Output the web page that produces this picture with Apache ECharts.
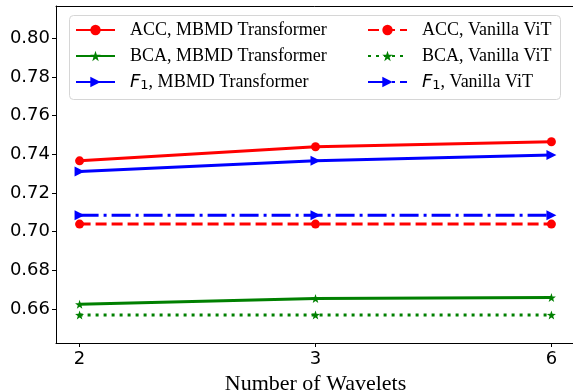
<!DOCTYPE html>
<html>
<head>
<meta charset="utf-8">
<script src="https://cdn.jsdelivr.net/npm/echarts@6/dist/echarts.min.js"></script>
<style>html,body{margin:0;padding:0;background:#fff}#c{width:573px;height:391px}</style>
</head>
<body>
<div id="c"></div>
<script>
const wavelets = ['2', '3', '6'];
const accMBMD = [0.7366, 0.7439, 0.7465];
const bcaMBMD = [0.6624, 0.6654, 0.6659];
const f1MBMD  = [0.7311, 0.7366, 0.7396];
const accViT  = [0.7039, 0.7039, 0.7039];
const bcaViT  = [0.6569, 0.6569, 0.6569];
const f1ViT   = [0.7085, 0.7085, 0.7085];
const yTicks = [0.66, 0.68, 0.70, 0.72, 0.74, 0.76, 0.78, 0.80];
const names = ['ACC, MBMD Transformer', 'BCA, MBMD Transformer', 'F1, MBMD Transformer',
               'ACC, Vanilla ViT', 'BCA, Vanilla ViT', 'F1, Vanilla ViT'];

function starPath() {
  let d = '';
  for (let i = 0; i < 10; i++) {
    const a = (-90 + i * 36) * Math.PI / 180;
    const r = i % 2 === 0 ? 100 : 40;
    d += (i === 0 ? 'M' : 'L') + (r * Math.cos(a)).toFixed(2) + ' ' + (r * Math.sin(a)).toFixed(2);
  }
  return 'path://' + d + 'Z';
}
const STAR = starPath();

function pts(arr) { return arr.map((v, i) => [i, v]); }

function mk(name, data, color, type, symbol, size, rotate) {
  return {
    name: name, type: 'line', data: pts(data),
    symbol: symbol, symbolSize: size, symbolRotate: rotate || 0,
    showSymbol: true,
    lineStyle: { color: color, width: 3, type: type, cap: 'butt' },
    itemStyle: { color: color },
    emphasis: { disabled: true },
    silent: true
  };
}

const legendText = {
  fontFamily: 'Liberation Serif', fontSize: 18, color: '#000', lineHeight: 20,
  padding: [0, 0, 0, 10],
  rich: {
    f: { fontFamily: 'DejaVu Sans', fontStyle: 'italic', fontSize: 18, color: '#000' },
    s: { fontFamily: 'DejaVu Sans', fontSize: 13, color: '#000', padding: [7, 0, 0, 0] },
    t: { fontFamily: 'Liberation Serif', fontSize: 18, color: '#000' }
  }
};
function fmt(n) {
  if (n.indexOf('F1') === 0) return '{f|F}{s|1}{t|' + n.slice(2) + '}';
  return n;
}

const chart = echarts.init(document.getElementById('c'), null, { renderer: 'canvas' });
chart.setOption({
  animation: false,
  backgroundColor: '#fff',
  grid: { left: 56, top: 6, width: 519, height: 337, show: false, containLabel: false, outerBoundsMode: 'none' },
  graphic: [{
    type: 'rect', z: 0,
    shape: { x: 69.5, y: 15.5, width: 491, height: 84, r: 4 },
    style: { fill: '#fff', stroke: '#d6d6d6', lineWidth: 1 }
  }],
  legend: [{
    data: names.slice(0, 3), orient: 'vertical', left: 75, top: 20, padding: 0,
    itemWidth: 39, itemHeight: 13, itemGap: 6, selectedMode: false,
    textStyle: legendText, formatter: fmt
  }, {
    data: names.slice(3), orient: 'vertical', left: 367, top: 20, padding: 0,
    itemWidth: 39, itemHeight: 13, itemGap: 6, selectedMode: false,
    textStyle: legendText, formatter: fmt
  }],
  xAxis: [{
    type: 'value', min: -0.1, max: 2.1, position: 'bottom',
    name: 'Number of Wavelets', nameLocation: 'middle', nameGap: 19,
    nameTextStyle: { fontFamily: 'Liberation Serif', fontSize: 22, color: '#000' },
    axisLine: { show: true, onZero: false, lineStyle: { color: '#000', width: 1 } },
    axisTick: { show: true, length: 4, lineStyle: { color: '#000' }, customValues: [0, 1, 2] },
    axisLabel: { fontFamily: 'DejaVu Sans', fontSize: 18, color: '#000', margin: 7,
      customValues: [0, 1, 2], formatter: v => wavelets[Math.round(v)] },
    splitLine: { show: false }
  }, {
    type: 'value', min: -0.1, max: 2.1, position: 'top',
    axisLine: { show: true, onZero: false, lineStyle: { color: '#000', width: 1 } },
    axisTick: { show: false }, axisLabel: { show: false }, splitLine: { show: false }
  }],
  yAxis: {
    type: 'value', min: 0.6424, max: 0.8167,
    axisLine: { show: true, onZero: false, lineStyle: { color: '#000', width: 1 } },
    axisTick: { show: true, length: 4, lineStyle: { color: '#000' }, customValues: yTicks },
    axisLabel: { fontFamily: 'DejaVu Sans', fontSize: 18, color: '#000', margin: 6,
      customValues: yTicks, formatter: v => v.toFixed(2) },
    splitLine: { show: false }
  },
  series: [
    mk(names[0], accMBMD, '#ff0000', 'solid', 'circle', 9),
    mk(names[1], bcaMBMD, '#008000', 'solid', STAR, 9),
    mk(names[2], f1MBMD, '#0000ff', 'solid', 'triangle', 10, -90),
    mk(names[3], accViT, '#ff0000', [11, 5], 'circle', 9),
    mk(names[4], bcaViT, '#008000', [3, 5], STAR, 9),
    mk(names[5], f1ViT, '#0000ff', [19, 5, 3, 5], 'triangle', 10, -90)
  ]
});
</script>
</body>
</html>
